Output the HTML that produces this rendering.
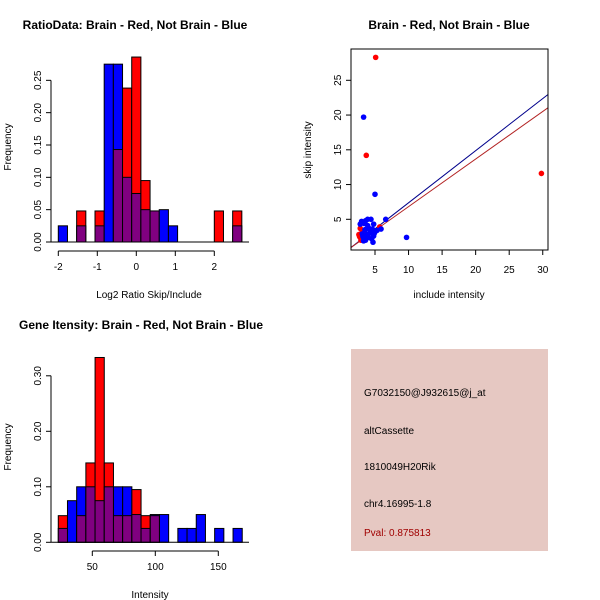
<!DOCTYPE html>
<html><head><meta charset="utf-8"><style>
body{margin:0;background:#fff}
svg{display:block;font-family:"Liberation Sans",sans-serif}
</style></head><body>
<svg id="c" width="600" height="600" viewBox="0 0 600 600">
<rect width="600" height="600" fill="#fff"/>
<text x="135" y="29" font-size="12" font-weight="bold" text-anchor="middle">RatioData: Brain - Red, Not Brain - Blue</text>
<text x="449" y="29" font-size="12" font-weight="bold" text-anchor="middle">Brain - Red, Not Brain - Blue</text>
<text x="141" y="329" font-size="12" font-weight="bold" text-anchor="middle">Gene Itensity: Brain - Red, Not Brain - Blue</text>
<text x="149" y="298" font-size="10" text-anchor="middle">Log2 Ratio Skip/Include</text>
<text x="11" y="147" font-size="10" text-anchor="middle" transform="rotate(-90 11 147)">Frequency</text>
<text x="150" y="598" font-size="10" text-anchor="middle">Intensity</text>
<text x="11" y="447" font-size="10" text-anchor="middle" transform="rotate(-90 11 447)">Frequency</text>
<text x="449" y="298" font-size="10" text-anchor="middle">include intensity</text>
<text x="311" y="150" font-size="10" text-anchor="middle" transform="rotate(-90 311 150)">skip intensity</text>
<g>
<rect x="351" y="349" width="197" height="202" fill="#e6c8c2"/>
<text x="364" y="396" font-size="10">G7032150@J932615@j_at</text>
<text x="364" y="434" font-size="10">altCassette</text>
<text x="364" y="470" font-size="10">1810049H20Rik</text>
<text x="364" y="507" font-size="10">chr4.16995-1.8</text>
<text x="364" y="536" font-size="10" fill="#a00000">Pval: 0.875813</text>
</g>
</svg>
<script>
// Ratio histogram data (bins of equal width starting at -2)
const ratioRed  = [0,0,0.048,0,0.048,0,0.143,0.238,0.286,0.095,0.048,0,0,0,0,0,0,0.048,0,0.048];
const ratioBlue = [0.025,0,0.025,0,0.025,0.275,0.275,0.10,0.075,0.05,0.048,0.05,0.025,0,0,0,0,0,0,0.025];
const ratioXTicks = [-2,-1,0,1,2];
const ratioYTicks = [0,0.05,0.10,0.15,0.20,0.25];
// Intensity histogram data
const intRed  = [0.048,0,0.048,0.143,0.333,0.143,0.048,0.048,0.095,0.048,0.048,0,0,0,0,0,0,0,0,0];
const intBlue = [0.025,0.075,0.10,0.10,0.075,0.10,0.10,0.10,0.05,0.025,0.05,0.05,0,0.025,0.025,0.05,0,0.025,0,0.025];
const intXTicks = [50,100,150];
const intYTicks = [0,0.10,0.20,0.30];
// Scatter data
const redX = [5.1,3.7,29.8,2.7,2.8,3.0,5.7,3.2,2.6,3.4,2.9];
const redY = [28.3,14.2,11.6,2.5,3.7,3.0,3.9,2.2,2.8,3.3,2.0];
const blueX = [3.3,5.0,9.7,6.6,5.9,4.7,2.8,3.0,3.4,3.6,3.9,4.2,4.4,4.8,5.0,3.2,3.5,3.8,4.1,4.5,4.9,3.1,3.6,4.0,4.3,4.6,3.3,3.9,4.8,5.3];
const blueY = [19.7,8.6,2.4,5.0,3.6,1.7,4.3,4.7,4.4,4.8,5.0,3.0,5.0,4.3,3.2,2.5,3.5,2.8,3.7,2.2,3.0,2.9,2.0,2.4,3.3,3.6,1.9,4.1,2.6,3.4];
const lineBlue = [0.75, -0.125]; // slope, intercept
const lineRed  = [0.685, -0.03];
const scXTicks = [5,10,15,20,25,30];
const scYTicks = [5,10,15,20,25];

const NS='http://www.w3.org/2000/svg', svg=document.getElementById('c');
function mk(tag, attrs, parent){const e=document.createElementNS(NS,tag);for(const k in attrs)e.setAttribute(k,attrs[k]);(parent||svg).appendChild(e);return e;}

function hist(g, red, blue, x0, bw, sx, sy, base){
  for(let i=0;i<red.length;i++){
    const l=sx(x0+i*bw), r=sx(x0+(i+1)*bw);
    const hi=Math.max(red[i],blue[i]), lo=Math.min(red[i],blue[i]);
    if(hi>0){
      const col = red[i]>blue[i]?'#ff0000':'#0000ff';
      const b=mk('rect',{x:l,y:sy(hi),width:r-l,height:base-sy(hi),fill:col,stroke:'#000','stroke-width':1},g);
      
      
    }
    if(lo>0){
      const p=mk('rect',{x:l,y:sy(lo),width:r-l,height:base-sy(lo),fill:'#800080',stroke:'#000','stroke-width':1},g);
      
      
    }
  }
}
function yaxis(g, ticks, sy, x, fmt){
  mk('line',{x1:x,x2:x,y1:sy(ticks[0]),y2:sy(ticks[ticks.length-1]),stroke:'#000'},g);
  ticks.forEach(t=>{mk('line',{x1:x,x2:x-5,y1:sy(t),y2:sy(t),stroke:'#000'},g);
    const tx=mk('text',{x:x-10,y:sy(t),'font-size':10,'text-anchor':'middle',transform:`rotate(-90 ${x-10} ${sy(t)})`},g);
    tx.textContent=fmt(t);
    
    });
}
function xaxis(g, ticks, sx, y){
  mk('line',{x1:sx(ticks[0]),x2:sx(ticks[ticks.length-1]),y1:y,y2:y,stroke:'#000'},g);
  ticks.forEach(t=>{mk('line',{x1:sx(t),x2:sx(t),y1:y,y2:y+5,stroke:'#000'},g);
    const tx=mk('text',{x:sx(t),y:y+19,'font-size':10,'text-anchor':'middle'},g);
    tx.textContent=String(t);
    
    });
}

// Ratio histogram
{
  const g=mk('g',{});
  
  
  const sx=v=>58.3+(v+2)*39, sy=v=>242-v*646.7;
  hist(g, ratioRed, ratioBlue, -2, 4/17, sx, sy, 242);
  mk('line',{x1:51,x2:249,y1:242,y2:242,stroke:'#000'},g);
  yaxis(g, ratioYTicks, sy, 51, t=>t.toFixed(2));
  xaxis(g, ratioXTicks, sx, 251);
}
// Intensity histogram
{
  const g=mk('g',{});
  
  
  const sx=v=>92.3+(v-50)*1.26, sy=v=>542.3-v*555;
  hist(g, intRed, intBlue, 23, 7.3, sx, sy, 542.3);
  mk('line',{x1:51,x2:249,y1:542.3,y2:542.3,stroke:'#000'},g);
  yaxis(g, intYTicks, sy, 51, t=>t.toFixed(2));
  xaxis(g, intXTicks, sx, 551);
}
// Scatter
{
  const g=mk('g',{});
  
  
  const sx=v=>375+(v-5)*6.71, sy=v=>219.3-(v-5)*6.95;
  const cp=mk('clipPath',{id:'clip'},g); mk('rect',{x:351,y:49,width:197,height:201},cp);
  const xl=0, xr=32;
  const lb=mk('line',{x1:sx(xl),y1:sy(lineBlue[0]*xl+lineBlue[1]),x2:sx(xr),y2:sy(lineBlue[0]*xr+lineBlue[1]),stroke:'#00008b','clip-path':'url(#clip)'},g);
  
  
  const lr=mk('line',{x1:sx(xl),y1:sy(lineRed[0]*xl+lineRed[1]),x2:sx(xr),y2:sy(lineRed[0]*xr+lineRed[1]),stroke:'#b22222','clip-path':'url(#clip)'},g);
  
  
  redX.forEach((x,i)=>{const c=mk('circle',{cx:sx(x),cy:sy(redY[i]),r:2.8,fill:'#ff0000'},g);
    
    });
  blueX.forEach((x,i)=>{const c=mk('circle',{cx:sx(x),cy:sy(blueY[i]),r:2.8,fill:'#0000ff'},g);
    
    });
  mk('rect',{x:351,y:49,width:197,height:201,fill:'none',stroke:'#000'},g);
  scYTicks.forEach(t=>{mk('line',{x1:351,x2:346,y1:sy(t),y2:sy(t),stroke:'#000'},g);
    const tx=mk('text',{x:341,y:sy(t),'font-size':10,'text-anchor':'middle',transform:`rotate(-90 341 ${sy(t)})`},g);
    tx.textContent=String(t);
    
    });
  scXTicks.forEach(t=>{mk('line',{x1:sx(t),x2:sx(t),y1:250,y2:255,stroke:'#000'},g);
    const tx=mk('text',{x:sx(t),y:273,'font-size':10,'text-anchor':'middle'},g);
    tx.textContent=String(t);
    
    });
}
</script>
</body></html>
